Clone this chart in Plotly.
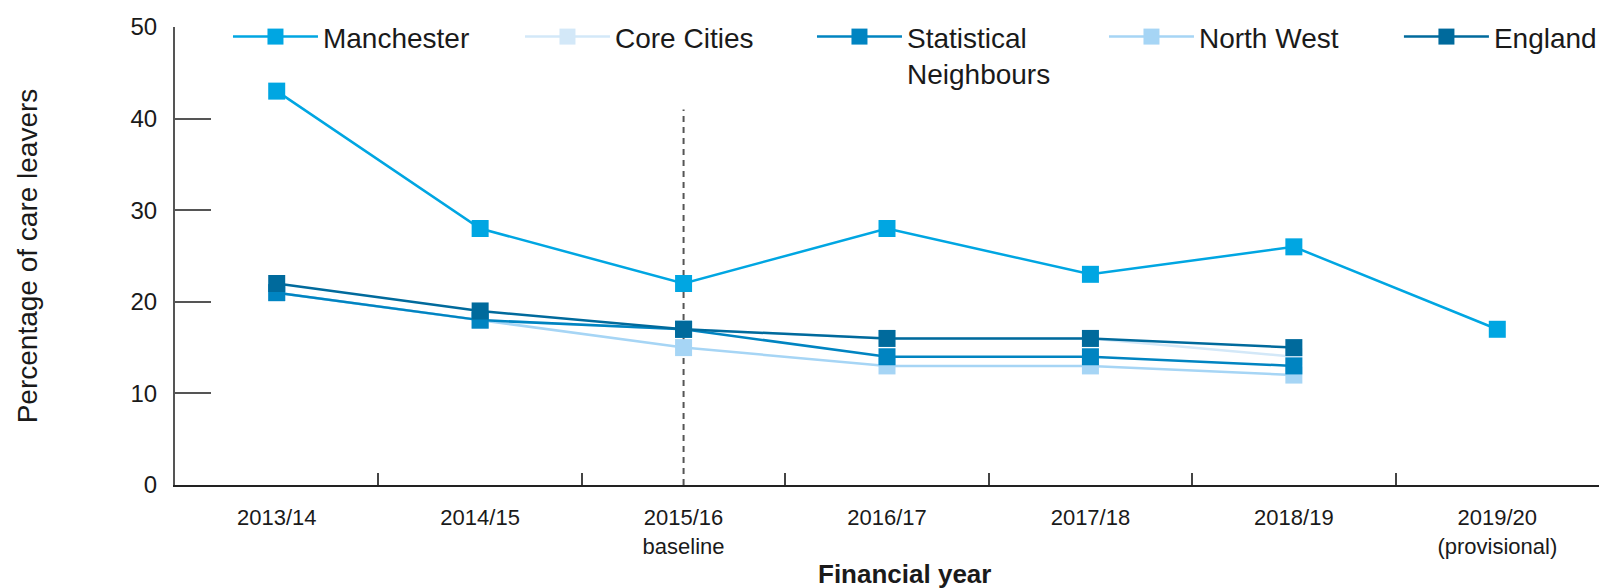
import plotly.graph_objects as go

years = ["2013/14", "2014/15", "2015/16<br>baseline", "2016/17", "2017/18",
         "2018/19", "2019/20<br>(provisional)"]

manchester = [43, 28, 22, 28, 23, 26, 17]
core_cities = [21, 18, 17, 16, 16, 14]
stat_neighbours = [21, 18, 17, 14, 14, 13]
north_west = [21, 18, 15, 13, 13, 12]
england = [22, 19, 17, 16, 16, 15]

baseline_year = years[2]
baseline_line_top = 41

y_ticks = [0, 10, 20, 30, 40, 50]

# drawing order (bottom to top) differs from legend order, so legendrank is used;
# England sits in a second legend box so the row does not wrap
series = [
    ("Core Cities", core_cities, "#d3e8f8", 2, "legend"),
    ("North West", north_west, "#a6d5f5", 4, "legend"),
    ("Statistical<br>Neighbours", stat_neighbours, "#0084c1", 3, "legend"),
    ("England", england, "#006a9c", 5, "legend2"),
    ("Manchester", manchester, "#00a6e2", 1, "legend"),
]

fig = go.Figure()
for name, vals, color, rank, leg in series:
    fig.add_trace(go.Scatter(
        x=years[:len(vals)], y=vals, name=name, mode="lines+markers",
        line=dict(color=color, width=2.5),
        marker=dict(symbol="square", size=17, color=color),
        legendrank=rank, legend=leg,
    ))

fig.add_shape(type="line", xref="x", yref="y",
              x0=baseline_year, x1=baseline_year, y0=0, y1=baseline_line_top,
              line=dict(color="#555555", width=2, dash="6px,5px"), layer="below")

font_main = "Liberation Sans, Arial, sans-serif"
text_col = "#1a1a1a"

legend_style = dict(
    orientation="h", xanchor="left", y=1.033, yanchor="top",
    font=dict(size=28, color=text_col),
    itemwidth=85, entrywidth=192, valign="top",
    bgcolor="rgba(0,0,0,0)", traceorder="normal",
)

fig.update_layout(
    width=1599, height=588,
    margin=dict(l=175, r=0, t=27, b=103, autoexpand=False),
    plot_bgcolor="white", paper_bgcolor="white",
    font=dict(family=font_main, color=text_col),
    showlegend=True,
    legend=dict(x=0.0372, **legend_style),
    legend2=dict(x=0.8595, **legend_style),
    xaxis=dict(
        type="category", range=[-0.5, 6.5],
        showline=True, linecolor="#222222", linewidth=2,
        ticks="inside", ticklen=12, tickcolor="#444444", tickwidth=1.5,
        tickson="boundaries", showgrid=False, zeroline=False,
        tickfont=dict(size=22, color=text_col),
        ticklabelstandoff=12,
    ),
    yaxis=dict(
        range=[0, 50], tickvals=y_ticks,
        showline=True, linecolor="#555555", linewidth=2,
        ticks="inside", ticklen=36, tickcolor="#555555", tickwidth=2,
        showgrid=False, zeroline=False,
        tickfont=dict(size=24, color=text_col),
        ticklabelstandoff=11,
        title=dict(text="Percentage of care leavers",
                   font=dict(size=28, color=text_col), standoff=85),
    ),
    annotations=[dict(
        text="<b>Financial year</b>", xref="paper", yref="paper",
        x=0.5126, y=0, xanchor="center", yanchor="middle", yshift=-89,
        showarrow=False, font=dict(size=26, color=text_col),
    )],
)

fig.write_html("out.html")
